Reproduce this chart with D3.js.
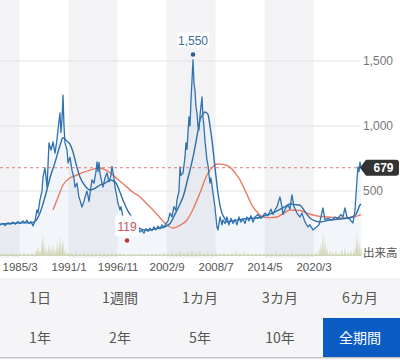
<!DOCTYPE html>
<html><head><meta charset="utf-8">
<script src="https://cdn.jsdelivr.net/npm/d3@7"></script>
<style>
html,body{margin:0;padding:0;background:#fff;}
svg{display:block;font-family:"Liberation Sans",Arial,sans-serif;}
</style></head>
<body><svg id="c" width="400" height="362"></svg>
<script>
// ---- data (dates as decimal years) ----
const priceDates = [1982.83,1983.19,1983.43,1983.78,1984.02,1984.38,1984.62,1984.97,1985.21,1985.57,1985.81,1986.04,1986.28,1986.52,1986.76,1987.00,1987.23,1987.35,1987.59,1987.83,1987.95,1988.19,1988.43,1988.66,1988.90,1989.14,1989.38,1989.62,1989.73,1989.97,1990.09,1990.21,1990.33,1990.45,1990.57,1990.81,1990.93,1991.16,1991.40,1991.64,1991.76,1992.00,1992.23,1992.35,1992.59,1992.83,1992.95,1993.19,1993.43,1993.54,1993.78,1994.02,1994.26,1994.38,1994.50,1994.62,1994.73,1994.97,1995.09,1995.33,1995.57,1995.81,1996.04,1996.16,1996.40,1996.52,1996.76,1996.88,1997.12,1997.23,1997.47,1997.71,1997.95,1998.31,1998.66,1998.90,1999.26,1999.50,1999.73,1999.97,2000.21,2000.45,2000.69,2000.93,2001.16,2001.40,2001.64,2001.88,2002.12,2002.35,2002.59,2002.83,2003.07,2003.31,2003.54,2003.78,2003.90,2004.14,2004.26,2004.38,2004.62,2004.85,2004.97,2005.09,2005.33,2005.45,2005.57,2005.81,2005.92,2006.04,2006.16,2006.28,2006.40,2006.52,2006.64,2006.88,2006.99,2007.11,2007.23,2007.47,2007.59,2007.83,2007.95,2008.19,2008.42,2008.54,2008.66,2008.78,2009.02,2009.26,2009.38,2009.61,2009.85,2010.09,2010.33,2010.57,2010.81,2011.04,2011.28,2011.52,2011.76,2012.00,2012.23,2012.47,2012.71,2012.95,2013.19,2013.54,2013.90,2014.38,2014.73,2015.09,2015.33,2015.57,2015.81,2016.16,2016.40,2016.52,2016.76,2017.11,2017.35,2017.59,2017.83,2018.19,2018.54,2018.78,2019.14,2019.50,2019.73,2020.09,2020.45,2020.81,2021.04,2021.28,2021.52,2021.88,2022.35,2022.71,2023.07,2023.42,2023.66,2023.90,2024.14,2024.50,2024.85,2025.09,2025.33,2025.45,2025.57,2025.69,2025.81];
const priceValues = [240,250,235,255,245,260,245,265,250,270,255,275,250,265,230,270,354,330,431,500,608,677,530,870,815,877,792,900,970,1100,950,1050,1238,1000,870,815,715,760,660,600,530,560,450,430,377,420,454,500,420,480,585,560,650,723,650,720,640,560,530,600,640,570,620,690,600,530,450,405,354,380,300,240,190,205,180,210,215,185,200,175,210,190,215,195,225,200,230,210,240,220,250,270,330,300,380,350,430,500,685,620,638,760,870,820,1070,1000,1200,1510,1330,1277,1150,1100,1000,970,1080,1223,1070,1000,890,738,700,560,600,485,377,300,223,200,300,240,277,250,300,240,290,250,280,240,300,260,285,250,300,270,310,260,300,320,290,330,310,360,320,354,380,454,380,320,360,392,360,470,380,330,300,330,262,223,240,200,220,240,300,370,280,290,277,300,290,320,300,370,300,280,254,350,585,685,650,723,679];

const maShortDates = [1982.83,1984.02,1985.21,1986.40,1987.00,1987.59,1988.19,1988.78,1989.38,1989.97,1990.33,1990.69,1991.16,1991.52,1992.00,1992.35,1992.95,1993.54,1994.14,1994.73,1995.33,1995.93,1996.52,1996.88,1997.12,1997.47,1997.95,1998.31,1998.66,1999.02,1999.50,2000.09,2000.69,2001.28,2001.88,2002.47,2003.07,2003.66,2004.26,2004.62,2005.21,2005.81,2006.28,2006.64,2006.99,2007.23,2007.59,2007.83,2008.07,2008.42,2008.78,2009.02,2009.26,2009.61,2009.85,2010.45,2011.40,2012.59,2013.19,2014.38,2015.57,2016.76,2017.35,2017.95,2018.54,2019.14,2019.73,2020.33,2020.93,2022.12,2023.30,2024.14,2024.73,2025.21,2025.69,2025.81];
const maShortValues = [245,250,255,255,265,330,454,600,720,850,910,890,860,800,680,608,540,508,520,546,560,585,570,530,490,430,360,320,280,245,210,200,200,210,215,225,250,320,400,454,600,760,920,1046,1090,1108,1090,1000,890,685,485,390,330,285,262,270,280,290,290,310,340,380,400,395,390,340,292,270,262,277,285,290,300,320,392,400];

const maLongDates = [1989.14,1989.73,1990.33,1991.16,1992.00,1992.83,1993.54,1994.14,1994.73,1995.45,1996.28,1997.12,1997.95,1998.66,1999.50,2000.33,2001.04,2001.88,2002.71,2003.42,2004.26,2005.09,2005.81,2006.64,2007.47,2008.07,2008.66,2009.38,2010.21,2010.81,2011.40,2012.11,2012.95,2013.54,2014.14,2014.97,2015.81,2016.64,2017.35,2018.54,2019.38,2020.09,2020.93,2021.76,2022.71,2023.54,2024.14,2024.97,2025.81];
const maLongValues = [354,450,546,600,623,645,660,672,677,660,623,575,530,490,454,400,354,295,238,215,235,277,360,485,623,680,708,705,685,640,585,490,377,330,300,295,300,330,354,350,330,315,305,300,295,292,292,300,318];

const volumeDates = [1982.83,1983.31,1983.78,1984.26,1984.73,1985.21,1985.69,1986.16,1986.64,1987.12,1987.35,1987.59,1987.83,1987.95,1988.19,1988.43,1988.66,1988.90,1989.14,1989.38,1989.62,1989.85,1989.97,1990.21,1990.33,1990.57,1990.93,1991.40,1991.88,1992.35,1992.83,1993.31,1993.78,1994.26,1994.73,1995.21,1995.69,1996.16,1996.64,1997.12,1997.59,1998.07,1998.54,1999.02,1999.50,1999.97,2000.45,2000.93,2001.40,2001.88,2002.35,2002.83,2003.31,2003.78,2004.26,2004.73,2005.21,2005.69,2006.16,2006.64,2007.11,2007.59,2008.07,2008.54,2009.02,2009.49,2009.97,2010.45,2010.93,2011.40,2011.88,2012.35,2012.83,2013.30,2013.78,2014.26,2014.73,2015.21,2015.69,2016.16,2016.64,2017.11,2017.59,2018.07,2018.54,2019.02,2019.50,2019.97,2020.45,2020.81,2021.04,2021.28,2021.52,2021.76,2022.12,2022.47,2022.83,2023.19,2023.54,2023.90,2024.26,2024.61,2024.97,2025.21,2025.33,2025.57,2025.81];
const volumeValues = [8,10,6,12,8,10,14,9,12,22,35,20,55,80,40,25,45,30,40,25,50,35,72,45,55,25,15,12,18,10,14,9,12,16,10,12,8,14,10,12,8,6,8,6,9,7,10,8,12,9,12,10,15,12,20,14,18,25,15,20,12,16,10,14,9,12,8,14,20,10,18,12,8,12,10,9,14,10,18,12,9,10,14,8,10,8,12,10,14,25,45,85,60,30,20,14,18,12,25,30,15,20,25,40,90,55,35];

const yTicks = [500,1000,1500,2000];
const yLabelTicks = [500,1000,1500];
const xTickLabels = ["1985/3","1991/1","1996/11","2002/9","2008/7","2014/5","2020/3"];
const lastValue = 679;
const highMark = {date: 2005.81, value: 1550};
const lowMark = {date: 1997.95, value: 119};
const volumeLabel = "出来高";
const periodRow1 = ["1日","1週間","1カ月","3カ月","6カ月"];
const periodRow2 = ["1年","2年","5年","10年","全期間"];
const selectedPeriod = "全期間";

// ---- helpers ----
function yd(y){const Y=Math.floor(y);const s=new Date(Y,0,1),e=new Date(Y+1,0,1);return new Date(+s+(y-Y)*(e-s));}
function ym(s){const [a,b]=s.split("/").map(Number);return new Date(a,b-1,1);}

const svg = d3.select("#c");
const W = 400, plotR = 361, plotB = 256;
const x = d3.scaleTime().domain([yd(1982.83), yd(2025.81)]).range([0, plotR]);
const y = d3.scaleLinear().domain([0, 2000]).range([plotB, -4]);
const yv = d3.scaleLinear().domain([0, 100]).range([plotB, 226]);

const price = priceDates.map((d,i)=>({d:yd(d),v:priceValues[i]}));
const maS = maShortDates.map((d,i)=>({d:yd(d),v:maShortValues[i]}));
const maL = maLongDates.map((d,i)=>({d:yd(d),v:maLongValues[i]}));
const vol = volumeDates.map((d,i)=>({d:yd(d),v:volumeValues[i]}));

svg.append("defs").append("clipPath").attr("id","plot").append("rect")
  .attr("x",0).attr("y",0).attr("width",plotR+1).attr("height",plotB+2);

// stripes
const tickDates = xTickLabels.map(ym);
const bounds = [x.domain()[0], ...tickDates, x.domain()[1]];
const g0 = svg.append("g").attr("clip-path","url(#plot)");
for (let i=0;i<bounds.length-1;i++){
  if (i%2===0) g0.append("rect").attr("x",x(bounds[i])).attr("y",0)
    .attr("width",x(bounds[i+1])-x(bounds[i])).attr("height",plotB+2).attr("fill","#f3f3f5");
}

// grid
const grid = svg.append("g");
yTicks.forEach(t=>{
  grid.append("line").attr("x1",0).attr("x2",plotR-1).attr("y1",y(t)).attr("y2",y(t))
    .attr("stroke","#e3e3e6").attr("stroke-width",1);
});
const yAxis = d3.axisRight(y).tickValues(yLabelTicks).tickFormat(d3.format(",")).tickSize(0).tickPadding(0);
const ya = svg.append("g").attr("transform",`translate(${plotR+2},0)`).call(yAxis);
ya.select(".domain").remove();
ya.selectAll("text").attr("font-size",12).attr("fill","#777").attr("font-family","Liberation Sans, Arial, sans-serif");

const gp = svg.append("g").attr("clip-path","url(#plot)");
// volume: thin spikes drawn around each reading
const volBase = 4;
const spikeW = 0.9;
gp.append("path").datum(vol)
  .attr("d", d=>{
    let p = `M${x(d[0].d)},${plotB}`;
    d.forEach(o=>{
      const cx = x(o.d);
      p += `L${cx-spikeW},${yv(volBase)}L${cx},${yv(o.v)}L${cx+spikeW},${yv(volBase)}`;
    });
    p += `L${x(d[d.length-1].d)},${plotB}Z`;
    return p;
  })
  .attr("fill","#cfcf98").attr("opacity",0.75);
// area under price
gp.append("path").datum(price)
  .attr("d", d3.area().x(d=>x(d.d)).y0(plotB).y1(d=>y(d.v)))
  .attr("fill","rgba(110,160,215,0.09)");
// dashed last value
gp.append("line").attr("x1",0).attr("x2",plotR).attr("y1",y(lastValue)).attr("y2",y(lastValue))
  .attr("stroke","#e57d7d").attr("stroke-width",1).attr("stroke-dasharray","3,3");
// lines
gp.append("path").datum(maL).attr("d", d3.line().x(d=>x(d.d)).y(d=>y(d.v)).curve(d3.curveMonotoneX)).attr("fill","none")
  .attr("stroke","#ea7a62").attr("stroke-width",1.4);
gp.append("path").datum(maS).attr("d", d3.line().x(d=>x(d.d)).y(d=>y(d.v)).curve(d3.curveMonotoneX)).attr("fill","none")
  .attr("stroke","#2e6da6").attr("stroke-width",1.4);
gp.append("path").datum(price).attr("d", d3.line().x(d=>x(d.d)).y(d=>y(d.v))).attr("fill","none")
  .attr("stroke","#2f72b0").attr("stroke-width",1.3).attr("stroke-linejoin","round");

// high marker
const hx = x(yd(highMark.date)), hy = y(highMark.value);
svg.append("rect").attr("x",hx-16).attr("y",hy-22).attr("width",32).attr("height",15).attr("fill","#fff").attr("opacity",0.9);
svg.append("text").attr("x",hx).attr("y",hy-10).attr("text-anchor","middle").attr("font-size",12)
  .attr("fill","#3d6f9c").text(d3.format(",")(highMark.value));
svg.append("circle").attr("cx",hx).attr("cy",hy).attr("r",2.3).attr("fill","#2e5f8e");

// low marker
const lx = x(yd(lowMark.date)), ly = y(lowMark.value);
svg.append("rect").attr("x",lx-12).attr("y",ly-25).attr("width",24).attr("height",20).attr("fill","#fff").attr("opacity",0.92);
svg.append("text").attr("x",lx).attr("y",ly-10).attr("text-anchor","middle").attr("font-size",12)
  .attr("fill","#c9575c").text(lowMark.value);
svg.append("circle").attr("cx",lx).attr("cy",ly).attr("r",2.3).attr("fill","#b93a3a");

// last value tag
const ty = y(lastValue);
svg.append("path").attr("d",`M${plotR-1},${ty} L${plotR+5},${ty-8} L${W-4},${ty-8} Q${W-1},${ty-8} ${W-1},${ty-5} L${W-1},${ty+5} Q${W-1},${ty+8} ${W-4},${ty+8} L${plotR+5},${ty+8} Z`)
  .attr("fill","#333");
svg.append("text").attr("x",(plotR+5+W-1)/2+1).attr("y",ty+4.5).attr("text-anchor","middle")
  .attr("font-size",12).attr("font-weight","bold").attr("fill","#fff").text(lastValue);

// volume label
svg.append("text").attr("x",plotR+2).attr("y",plotB+1).attr("font-size",11.5).attr("fill","#555")
  .attr("font-family","Noto Sans CJK JP, sans-serif").text(volumeLabel);

// x axis
const xAxis = d3.axisBottom(x).tickValues(tickDates).tickFormat((d,i)=>xTickLabels[i]).tickSize(0).tickPadding(0);
const xa = svg.append("g").attr("transform",`translate(0,${plotB+15})`).call(xAxis);
xa.select(".domain").remove();
xa.selectAll("text").attr("font-size",11.5).attr("fill","#555").attr("dy",0).attr("font-family","Liberation Sans, Arial, sans-serif");

// period buttons
const bTop = 278, rowH = 40;
svg.append("rect").attr("x",0).attr("y",bTop).attr("width",W).attr("height",80).attr("fill","#f5f5f7");
svg.append("rect").attr("x",0).attr("y",357).attr("width",W).attr("height",1.5).attr("fill","#c4c4c8");
const bx = d3.scaleBand().domain(d3.range(5)).range([0,W]);
[periodRow1, periodRow2].forEach((row,ri)=>{
  row.forEach((lab,i)=>{
    const sel = lab===selectedPeriod;
    const top = bTop + ri*rowH;
    if (sel) svg.append("rect").attr("x",bx(i)+3).attr("y",top).attr("width",bx.bandwidth()-3).attr("height",39).attr("fill","#0b5cc2");
    svg.append("text").attr("x",bx(i)+bx.bandwidth()/2).attr("y",top+20+5).attr("text-anchor","middle")
      .attr("font-size",14).attr("fill",sel?"#fff":"#555").attr("font-family","Noto Sans CJK JP, sans-serif").text(lab);
  });
});
</script></body></html>
